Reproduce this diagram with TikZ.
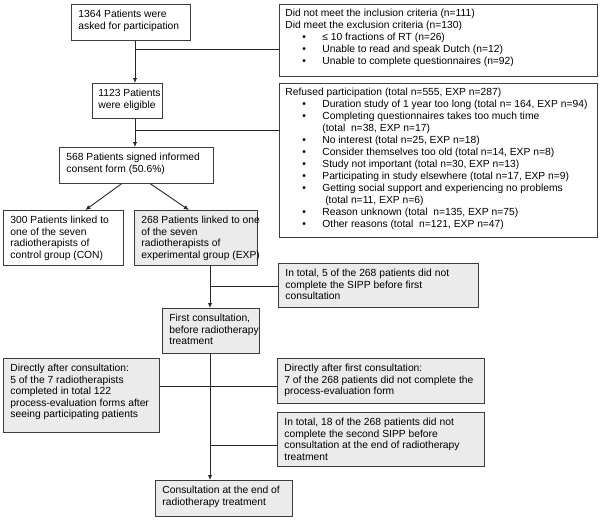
\documentclass[tikz,border=0pt]{standalone}
\usepackage{fontspec}
\setmainfont{Liberation Sans}
\usetikzlibrary{arrows.meta}
\definecolor{panelfill}{RGB}{235,235,235}
\definecolor{panelrule}{RGB}{60,60,60}
\newcommand{\cell}[3]{\parbox[c][#2][t]{#1}{\begin{tabular}[t]{@{}l@{}}#3\end{tabular}}}
\newcommand{\bul}[1]{\hspace*{17pt}\makebox[20pt][l]{•}#1}
\newcommand{\more}[1]{\hspace*{37pt}#1}

\begin{document}
\begin{tikzpicture}[x=1pt,y=1pt,
		plain/.style={draw=panelrule,line width=0.8pt,anchor=north west,inner xsep=7pt,inner ysep=5.5pt,font=\fontsize{10.3}{11.5}\selectfont},
		shaded/.style={plain,fill=panelfill},
		listbox/.style={plain,inner xsep=6pt,inner ysep=3.5pt,font=\fontsize{10.3}{12}\selectfont},
		link/.style={draw=black!85,line width=0.9pt},
		flow/.style={link,-{Latex[length=5pt,width=4.5pt]}}]
	\useasboundingbox (0,0) rectangle (600,-522);
	\node[plain] (asked) at (71,-4) {\cell{105pt}{25pt}{1364 Patients were\\asked for participation}};
	\node[listbox] (excl) at (279,-4) {\cell{306pt}{65pt}{Did not meet the inclusion criteria (n=111)\\Did meet the exclusion criteria (n=130)\\
		\bul{≤ 10 fractions of RT (n=26)}\\
		\bul{Unable to read and speak Dutch (n=12)}\\
		\bul{Unable to complete questionnaires (n=92)}}};
	\node[plain,inner xsep=6pt] (eligible) at (92,-83) {\cell{58pt}{24pt}{1123 Patients\\were eligible}};
	\node[listbox] (refused) at (279,-83) {\cell{306pt}{147pt}{Refused participation (total n=555, EXP n=287)\\
		\bul{Duration study of 1 year too long (total n= 164, EXP n=94)}\\
		\bul{Completing questionnaires takes too much time}\\
		\more{(total\ \ n=38, EXP n=17)}\\
		\bul{No interest (total n=25, EXP n=18)}\\
		\bul{Consider themselves too old (total n=14, EXP n=8)}\\
		\bul{Study not important (total n=30, EXP n=13)}\\
		\bul{Participating in study elsewhere (total n=17, EXP n=9)}\\
		\bul{Getting social support and experiencing no problems}\\
		\more{\ (total n=11, EXP n=6)}\\
		\bul{Reason unknown (total\ \ n=135, EXP n=75)}\\
		\bul{Other reasons (total\ \ n=121, EXP n=47)}}};
	\node[plain] (consent) at (59,-147) {\cell{140pt}{25pt}{568 Patients signed informed\\consent form (50.6\%)}};
	\node[plain] (con) at (3,-210) {\cell{106pt}{44pt}{300 Patients linked to\\one of the seven\\radiotherapists of\\control group (CON)}};
	\node[shaded] (exp) at (134,-210) {\cell{109pt}{44pt}{268 Patients linked to one\\of the seven\\radiotherapists of\\experimental group (EXP)}};
	\node[shaded] (sipp1) at (278,-263) {\cell{186pt}{33pt}{In total, 5 of the 268 patients did not\\complete the SIPP before first\\consultation}};
	\node[shaded] (first) at (162,-308) {\cell{83pt}{34pt}{First consultation,\\before radiotherapy\\treatment}};
	\node[shaded] (forms) at (3,-358) {\cell{142pt}{63pt}{Directly after consultation:\\5 of the 7 radiotherapists\\completed in total 122\\process-evaluation forms after\\seeing participating patients}};
	\node[shaded] (noform) at (277,-358) {\cell{193pt}{34pt}{Directly after first consultation:\\7 of the 268 patients did not complete the\\process-evaluation form}};
	\node[shaded] (sipp2) at (277,-412) {\cell{193pt}{43pt}{In total, 18 of the 268 patients did not\\complete the second SIPP before\\consultation at the end of radiotherapy\\treatment}};
	\node[shaded] (last) at (155,-480) {\cell{123pt}{25pt}{Consultation at the end of\\radiotherapy treatment}};
	\coordinate (j1) at (135,-49);
	\coordinate (j2) at (135,-130);
	\coordinate (j3) at (210,-286);
	\coordinate (j4) at (210,-386);
	\coordinate (j5) at (210,-445);
	\draw[flow] (asked.south -| j1) -- (eligible.north -| j1);
	\draw[link] (j1) -- (j1 -| excl.west);
	\draw[flow] (eligible.south -| j2) -- (consent.north -| j2);
	\draw[link] (j2) -- (j2 -| refused.west);
	\draw[flow] ([xshift=-15pt]consent.south) -- ([xshift=22pt]con.north);
	\draw[flow] ([xshift=14pt]consent.south) -- ([xshift=-7pt]exp.north);
	\draw[flow] (exp.south -| j3) -- (first.north -| j3);
	\draw[link] (j3) -- (j3 -| sipp1.west);
	\draw[flow] (first.south -| j4) -- (last.north -| j4);
	\draw[link] (j4 -| forms.east) -- (j4 -| noform.west);
	\draw[link] (j5) -- (j5 -| sipp2.west);
\end{tikzpicture}
\end{document}
